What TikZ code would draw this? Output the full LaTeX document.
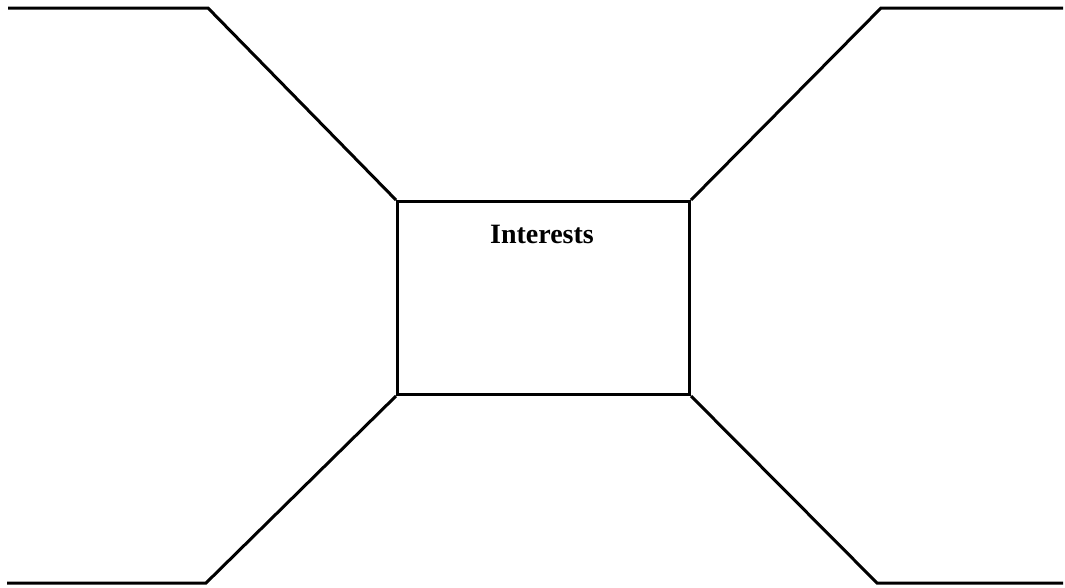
\documentclass[tikz,border=0pt]{standalone}
\usepackage{fontspec}
\setmainfont{Liberation Serif}
\begin{document}
\begin{tikzpicture}[x=1pt,y=-1pt,
  edge/.style={line width=3pt,line join=miter,line cap=butt},
  box/.style={draw,line width=3pt,minimum width=292pt,minimum height=193pt,inner sep=0pt,anchor=north west}]
\useasboundingbox (0,0) rectangle (1065,587);
\node[box] (B) at (396,200) {};
\node[font=\fontsize{28}{30}\selectfont\bfseries] (T) at (542,234) {Interests};
\coordinate (tl1) at (8,8);
\coordinate (tl2) at (208,8);
\coordinate (tr1) at (1063,8);
\coordinate (tr2) at (881,8);
\coordinate (bl1) at (7,583);
\coordinate (bl2) at (206,583);
\coordinate (br1) at (1063,583);
\coordinate (br2) at (877,583);
\draw[edge] (tl1) -- (tl2) -- (B.north west);
\draw[edge] (tr1) -- (tr2) -- (B.north east);
\draw[edge] (bl1) -- (bl2) -- (B.south west);
\draw[edge] (br1) -- (br2) -- (B.south east);
\end{tikzpicture}
\end{document}
